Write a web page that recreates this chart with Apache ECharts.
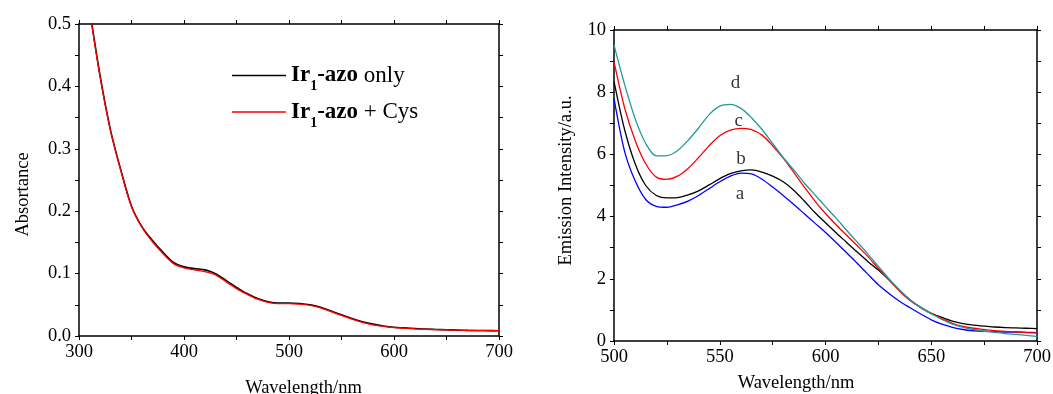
<!DOCTYPE html>
<html><head><meta charset="utf-8">
<script src="https://cdn.jsdelivr.net/npm/echarts@6/dist/echarts.min.js"></script>
<style>html,body{margin:0;padding:0;background:#fff}#c{width:1053px;height:394px}</style>
</head><body><div id="c"></div>
<script>
// ---------- data: absorbance (left panel) ----------
const absWavelength = [310,320,330,340,350,360,370,380,390,400,410,420,430,440,450,460,470,480,490,500,510,520,530,540,550,560,570,580,590,600,610,620,630,640,650,660,670,680,690,700];
const absOnly = [0.525,0.418,0.330,0.265,0.208,0.175,0.153,0.134,0.118,0.111,0.108,0.106,0.100,0.089,0.078,0.068,0.060,0.055,0.053,0.053,0.052,0.050,0.046,0.040,0.034,0.028,0.023,0.019,0.016,0.014,0.013,0.012,0.011,0.0105,0.010,0.0095,0.009,0.0088,0.0086,0.0085];
const absCys  = [0.523,0.416,0.329,0.264,0.207,0.174,0.151,0.132,0.116,0.109,0.106,0.103,0.098,0.087,0.076,0.067,0.059,0.054,0.052,0.052,0.051,0.049,0.045,0.039,0.033,0.027,0.022,0.018,0.0155,0.0135,0.0125,0.0115,0.0108,0.0102,0.0098,0.0093,0.0089,0.0087,0.0085,0.0084];
const absNames = ['Ir1-azo only','Ir1-azo + Cys'];

// ---------- data: emission (right panel) ----------
const emWavelength = [500,505,510,515,520,525,530,535,540,545,550,555,560,565,570,575,580,585,590,595,600,605,610,615,620,625,630,635,640,645,650,655,660,665,670,675,680,685,690,695,700];
const emA = [7.8,6.1,5.15,4.55,4.33,4.3,4.38,4.5,4.68,4.9,5.12,5.3,5.4,5.37,5.2,4.95,4.68,4.39,4.09,3.79,3.49,3.17,2.84,2.5,2.15,1.81,1.53,1.28,1.07,0.87,0.68,0.54,0.44,0.37,0.33,0.31,0.3,0.29,0.29,0.28,0.27];
const emB = [8.35,6.8,5.7,5.0,4.68,4.6,4.61,4.7,4.83,5.02,5.22,5.38,5.47,5.5,5.43,5.3,5.12,4.85,4.5,4.13,3.8,3.48,3.17,2.86,2.56,2.28,1.97,1.63,1.32,1.08,0.89,0.76,0.64,0.56,0.51,0.48,0.45,0.43,0.42,0.41,0.40];
const emC = [8.98,7.5,6.45,5.7,5.27,5.2,5.3,5.55,5.9,6.28,6.6,6.78,6.84,6.8,6.62,6.28,5.88,5.42,4.95,4.5,4.1,3.74,3.4,3.06,2.72,2.33,1.97,1.61,1.3,1.07,0.88,0.72,0.57,0.47,0.41,0.37,0.33,0.31,0.29,0.27,0.26];
const emD = [9.52,8.25,7.15,6.35,5.95,5.96,6.12,6.45,6.85,7.28,7.55,7.61,7.48,7.18,6.8,6.35,5.9,5.5,5.08,4.7,4.32,3.95,3.56,3.18,2.8,2.4,2.0,1.64,1.33,1.08,0.88,0.69,0.54,0.44,0.37,0.32,0.28,0.24,0.21,0.18,0.15];
const curveLetters = ['a','b','c','d'];
const letterX = [559.6,560.0,559.0,557.5];
const letterY = [4.73,5.85,7.07,8.30];

// ---------- tick labels ----------
const absXTicks = {min:300,max:700,interval:100};
const absYTicks = {min:0,max:0.5,interval:0.1};
const emXTicks = {min:500,max:700,interval:50};
const emYTicks = {min:0,max:10,interval:2};

const FONT = 'Liberation Serif';
const FS = 18.5;
const pair = (xs, ys) => xs.map((x, i) => [x, ys[i]]);

function tickCfg(){
  return {
    axisLine:{show:true,onZero:false,lineStyle:{color:'#000',width:1.5}},
    axisTick:{show:true,inside:false,length:4,lineStyle:{color:'#000',width:1}},
    minorTick:{show:true,splitNumber:2,length:4,lineStyle:{color:'#000',width:1}},
    splitLine:{show:false}
  };
}
function xAx(grid, t, pos, showLabel, name, gap, pad){
  return Object.assign(tickCfg(), {
    type:'value', gridIndex:grid, position:pos, min:t.min, max:t.max, interval:t.interval,
    axisLabel:{show:showLabel,color:'#000',fontFamily:FONT,fontSize:FS,margin:7},
    name: name || '', nameLocation:'middle', nameGap:gap || 0,
    nameTextStyle:{color:'#000',fontFamily:FONT,fontSize:FS,padding:pad || 0}
  });
}
function yAx(grid, t, pos, showLabel, fmt, name, gap, pad){
  return Object.assign(tickCfg(), {
    type:'value', gridIndex:grid, position:pos, min:t.min, max:t.max, interval:t.interval,
    axisLabel:{show:showLabel,color:'#000',fontFamily:FONT,fontSize:FS,margin:8,formatter:fmt},
    name: name || '', nameLocation:'middle', nameGap:gap || 0,
    nameTextStyle:{color:'#000',fontFamily:FONT,fontSize:FS,padding:pad || 0}
  });
}

const chart = echarts.init(document.getElementById('c'), null, {renderer:'canvas'});
chart.setOption({
  backgroundColor:'#fff',
  animation:false,
  grid:[
    {left:79, top:24, width:420, height:312, containLabel:false, outerBoundsMode:'none'},
    {left:614, top:30, width:423, height:311, containLabel:false, outerBoundsMode:'none'}
  ],
  xAxis:[
    xAx(0, absXTicks, 'bottom', true, 'Wavelength/nm', 43, [0,0,0,29]),
    xAx(0, absXTicks, 'top', false),
    xAx(1, emXTicks, 'bottom', true, 'Wavelength/nm', 33, [0,59,0,0]),
    xAx(1, emXTicks, 'top', false)
  ],
  yAxis:[
    yAx(0, absYTicks, 'left', true, v => v.toFixed(1), 'Absortance', 46, [0,29,0,0]),
    yAx(0, absYTicks, 'right', false),
    yAx(1, emYTicks, 'left', true, v => String(v), 'Emission Intensity/a.u.', 38, [0,0,0,10]),
    yAx(1, emYTicks, 'right', false)
  ],
  legend:{
    show:true, orient:'vertical', left:227, top:59,
    itemWidth:54, itemHeight:1.5, itemGap:7, icon:'rect',
    data:absNames,
    formatter: n => n === absNames[0] ? '{b|Ir}{s|1}{b|-azo}{n| only}' : '{b|Ir}{s|1}{b|-azo}{n| + Cys}',
    textStyle:{
      color:'#000', fontFamily:FONT, fontSize:23,
      rich:{
        b:{fontFamily:FONT,fontSize:23,fontWeight:'bold',color:'#000'},
        s:{fontFamily:FONT,fontSize:14,fontWeight:'bold',color:'#000',padding:[22,0,0,0]},
        n:{fontFamily:FONT,fontSize:23,color:'#000'}
      }
    }
  },
  series:[
    {name:absNames[0], type:'line', xAxisIndex:0, yAxisIndex:0, data:pair(absWavelength, absOnly),
     smooth:0.3, showSymbol:false, color:'#000', lineStyle:{width:1.6,color:'#000'}},
    {name:absNames[1], type:'line', xAxisIndex:0, yAxisIndex:0, data:pair(absWavelength, absCys),
     smooth:0.3, showSymbol:false, color:'#ff0000', lineStyle:{width:1.3,color:'#ff0000'}},
    {name:'a', type:'line', xAxisIndex:2, yAxisIndex:2, data:pair(emWavelength, emA),
     smooth:0.3, showSymbol:false, color:'#0000ff', lineStyle:{width:1.3,color:'#0000ff'}},
    {name:'b', type:'line', xAxisIndex:2, yAxisIndex:2, data:pair(emWavelength, emB),
     smooth:0.3, showSymbol:false, color:'#000', lineStyle:{width:1.3,color:'#000'}},
    {name:'c', type:'line', xAxisIndex:2, yAxisIndex:2, data:pair(emWavelength, emC),
     smooth:0.3, showSymbol:false, color:'#ff0000', lineStyle:{width:1.3,color:'#ff0000'}},
    {name:'d', type:'line', xAxisIndex:2, yAxisIndex:2, data:pair(emWavelength, emD),
     smooth:0.3, showSymbol:false, color:'#1f9a98', lineStyle:{width:1.3,color:'#1f9a98'}},
    {name:'letters', type:'scatter', xAxisIndex:2, yAxisIndex:2, silent:true,
     data: curveLetters.map((l, i) => [letterX[i], letterY[i], l]),
     symbolSize:1, itemStyle:{color:'rgba(0,0,0,0)'},
     label:{show:true, position:'inside', formatter: p => p.value[2],
            color:'#000', fontFamily:FONT, fontSize:19}}
  ]
});
</script></body></html>
